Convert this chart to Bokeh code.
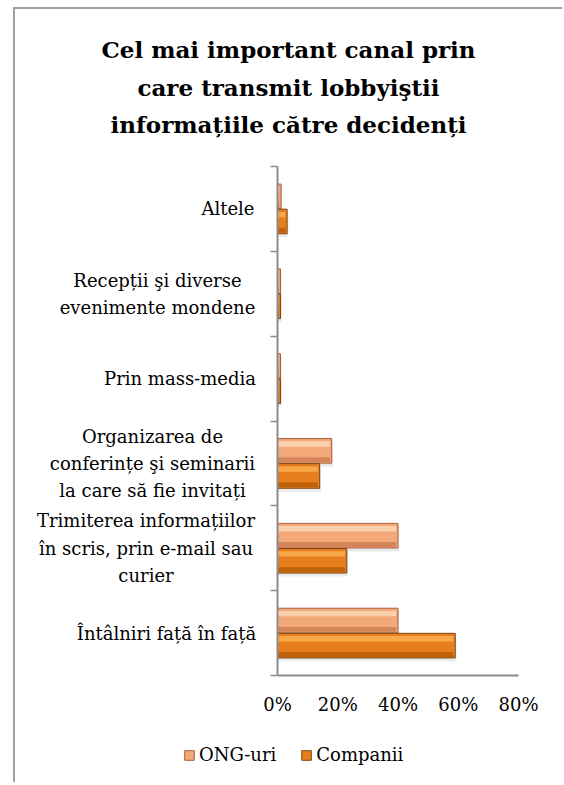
from bokeh.plotting import figure
from bokeh.models import (Range1d, LinearAxis, FixedTicker, Legend, LegendItem,
                          ColumnDataSource)
from bokeh.core.properties import value
from bokeh.embed import file_html
from bokeh.resources import INLINE

# ---- data (bottom to top) ----
categories = [
    "Întâlniri față în față",
    "Trimiterea informațiilor\nîn scris, prin e-mail sau\ncurier",
    "Organizarea de\nconferințe şi seminarii\nla care să fie invitați",
    "Prin mass-media",
    "Recepții şi diverse\nevenimente mondene",
    "Altele",
]
ong = [0.40, 0.40, 0.18, 0.01, 0.01, 0.012]
companii = [0.59, 0.23, 0.14, 0.01, 0.01, 0.032]
x_ticks = [0.0, 0.2, 0.4, 0.6, 0.8]
x_tick_labels = ["0%", "20%", "40%", "60%", "80%"]
series_names = ["ONG-uri", "Companii"]
title_lines = ["Cel mai important canal prin",
               "care transmit lobbyiştii",
               "informațiile către decidenți"]

# ---- layout (picture pixels) ----
FONT = "DejaVu Serif"
W, H = 549, 775
CANVAS_X, CANVAS_Y = 15, 10
MB_L, MB_B = 20, 6
FL, FR = CANVAS_X + MB_L, CANVAS_X + W
FT, FB = CANVAS_Y, CANVAS_Y + H - MB_B
X0, X80 = 277, 518          # picture x of 0% and 80%
Y0, Y6 = 676, 167           # picture y of bottom / top of category band
n = len(categories)
PPX = (X80 - X0) / 0.8
PPY = (Y0 - Y6) / n


def dx(px):
    return (px - X0) / PPX


def dy(py):
    return (Y0 - py) / PPY


p = figure(width=W, height=H, x_range=Range1d(dx(FL), dx(FR)), y_range=Range1d(dy(FB), dy(FT)),
           output_backend="svg", toolbar_location=None,
           x_axis_location=None, y_axis_location=None,
           min_border_left=MB_L, min_border_right=0, min_border_top=0, min_border_bottom=MB_B)
p.outline_line_color = None
for g in p.grid:
    g.visible = False
p.styles = {"margin-left": "13px", "margin-top": "7px",
            "border-left": "2px solid #a0a0a0", "border-top": "2px solid #a0a0a0"}

centers = [i + 0.5 for i in range(n)]
bar_h = 0.29
off = 0.148

styles = {
    "ONG-uri": dict(main="#f2a878", light="#fbd0ac", dark="#d4865a", edge="#a86040", dy=off),
    "Companii": dict(main="#e67e1e", light="#f8a848", dark="#bf620e", edge="#7e4612", dy=-off),
}
renderers = {}
for name, vals in zip(series_names, [ong, companii]):
    st = styles[name]
    ys = [c + st["dy"] for c in centers]
    src = ColumnDataSource(dict(y=ys, right=vals,
                                ys=[y - 0.04 for y in ys],
                                rs=[v + 0.004 for v in vals],
                                yt=[y + bar_h * 0.28 for y in ys],
                                yb=[y - bar_h * 0.36 for y in ys],
                                rt=[max(v - 0.006, 0.002) for v in vals]))
    p.hbar(y="ys", left=0, right="rs", height=bar_h, source=src,
           fill_color="#d0d0d0", fill_alpha=0.45, line_color=None)
    r = p.hbar(y="y", left=0, right="right", height=bar_h, source=src,
               fill_color=st["main"], line_color=st["edge"], line_width=1)
    p.hbar(y="yt", left=0.001, right="rt", height=bar_h * 0.22, source=src,
           fill_color=st["light"], line_color=None)
    p.hbar(y="yb", left=0.001, right="rt", height=bar_h * 0.2, source=src,
           fill_color=st["dark"], line_color=None)
    renderers[name] = r

# ---- axes (lines and boundary ticks) ----
yaxis = LinearAxis(ticker=FixedTicker(ticks=[], minor_ticks=list(range(n + 1))),
                   fixed_location=0, bounds=(0, n))
yaxis.major_tick_line_color = None
yaxis.minor_tick_in = 0
yaxis.minor_tick_out = 7
yaxis.minor_tick_line_color = "#8c8c8c"
yaxis.minor_tick_line_width = 1.5
yaxis.axis_line_color = "#8c8c8c"
yaxis.axis_line_width = 2
yaxis.major_label_text_font_size = "0px"
p.add_layout(yaxis, "left")

xaxis = LinearAxis(ticker=FixedTicker(ticks=[]), fixed_location=0, bounds=(0, 0.8))
xaxis.major_tick_line_color = None
xaxis.minor_tick_line_color = None
xaxis.axis_line_color = "#8c8c8c"
xaxis.axis_line_width = 2
xaxis.major_label_text_font_size = "0px"
p.add_layout(xaxis, "below")

# ---- category labels: block right edge at 255px, lines centred in block ----
LABEL_RIGHT = 255
block_w = [178, 219, 206, 151, 196, 55]   # approximate rendered block widths (px)
lab_src = ColumnDataSource(dict(
    x=[dx(LABEL_RIGHT - w / 2) for w in block_w], y=centers, t=categories))
p.text(x="x", y="y", text="t", source=lab_src, text_align="center", text_baseline="middle",
       text_font=value(FONT), text_font_size="18px", text_line_height=1.3, text_color="black")

# ---- x tick labels ----
xt_src = ColumnDataSource(dict(x=x_ticks, y=[dy(705)] * len(x_ticks), t=x_tick_labels))
p.text(x="x", y="y", text="t", source=xt_src, text_align="center", text_baseline="middle",
       text_font=value(FONT), text_font_size="18px", text_color="black")

# ---- title ----
t_src = ColumnDataSource(dict(x=[dx(288)] * 3, y=[dy(50), dy(88), dy(125)], t=title_lines))
p.text(x="x", y="y", text="t", source=t_src, text_align="center", text_baseline="middle",
       text_font=value(FONT), text_font_style="bold", text_font_size="23px", text_color="black")

# ---- legend ----
legend = Legend(items=[LegendItem(label=nm, renderers=[renderers[nm]]) for nm in series_names],
                orientation="horizontal", location=(183 - FL, FB - 766),
                padding=0, margin=0, spacing=24, glyph_width=12, glyph_height=12,
                label_standoff=4, label_text_font=FONT, label_text_font_size="18px",
                label_text_color="black",
                background_fill_alpha=0, border_line_color=None)
p.add_layout(legend)

open("out.html", "w").write(file_html(p, INLINE))
